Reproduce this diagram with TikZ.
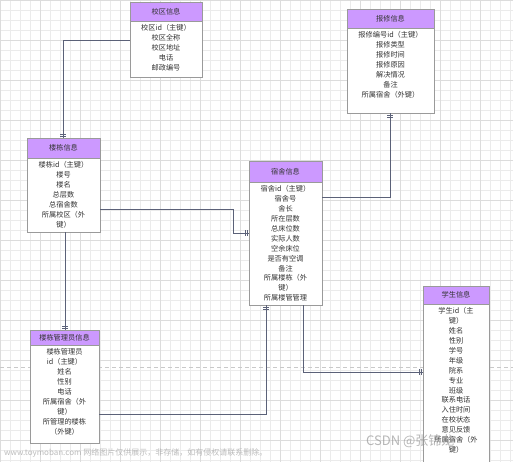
\documentclass[tikz,border=0pt]{standalone}
\usepackage{fontspec}
\setmainfont{Noto Sans CJK SC}
\usetikzlibrary{fit}
\definecolor{hdr}{HTML}{CC99FF}
\definecolor{boxc}{HTML}{9A9A9A}
\definecolor{conn}{HTML}{5B6178}
\definecolor{txt}{HTML}{333333}
\definecolor{gridA}{HTML}{EBEBEB}
\definecolor{gridB}{HTML}{DCDCDC}
\tikzset{
  boxline/.style={draw=boxc, line width=0.9pt},
  conline/.style={draw=conn, line width=0.9pt},
  bodytext/.style={anchor=north, align=center, text=txt, inner sep=0pt,
     font=\fontsize{7.2}{9.9}\selectfont},
  titletext/.style={text=txt, inner sep=0pt, font=\fontsize{7.2}{9}\selectfont},
  tick/.style={draw=conn, line width=0.7pt}
}
\newcommand{\entity}[8]{%
  \node[boxline, fill=white, inner sep=0pt, fit={(#2,#3) (#4,#6)}] (#1) {};
  \node[boxline, fill=hdr, inner sep=0pt, fit={(#2,#3) (#4,#5)}] (#1h) {};
  \node[titletext] (#1t) at (#1h.center) {#7};
  \node[bodytext] (#1b) at ({(#2+#4)/2},{#5+3.5}) {#8};
}
\begin{document}
\begin{tikzpicture}[x=1pt,y=-1pt]
\useasboundingbox (0,0) rectangle (513,462);
\fill[white] (0,0) rectangle (513,462);
% grid
\foreach \i in {0,10,...,510} {\draw[gridA, line width=0.5pt] (\i,0) -- (\i,462);}
\foreach \j in {0,10,...,460} {\draw[gridA, line width=0.5pt] (0,\j) -- (513,\j);}
\foreach \i in {0,40,...,510} {\draw[gridB, line width=0.6pt] (\i,0) -- (\i,462);}
\foreach \j in {0,40,...,460} {\draw[gridB, line width=0.6pt] (0,\j) -- (513,\j);}
\draw[gridB!80!gray, line width=0.6pt, dash pattern=on 4pt off 3pt] (0,367) -- (513,367);

% entities
\entity{xq}{130}{2}{202}{21}{77}{校区信息}{校区id（主键）\\校区全称\\校区地址\\电话\\邮政编号}
\entity{bx}{347}{9}{434}{28}{113}{报修信息}{报修编号id（主键）\\报修类型\\报修时间\\报修原因\\解决情况\\备注\\所属宿舍（外键）}
\entity{ld}{27}{138}{100}{158}{232}{楼栋信息}{楼栋id（主键）\\楼号\\楼名\\总层数\\总宿舍数\\所属校区（外\\键）}
\entity{ss}{249}{161}{322}{182}{305}{宿舍信息}{宿舍id（主键）\\宿舍号\\舍长\\所在层数\\总床位数\\实际人数\\空余床位\\是否有空调\\备注\\所属楼栋（外\\键）\\所属楼管管理}
\entity{gl}{30}{330}{99}{345}{443}{楼栋管理员信息}{楼栋管理员\\id（主键）\\姓名\\性别\\电话\\所属宿舍（外\\键）\\所管理的楼栋\\（外键）}
\entity{xs}{423}{286}{489}{304}{462}{学生信息}{学生id（主\\键）\\姓名\\性别\\学号\\年级\\院系\\专业\\班级\\联系电话\\入住时间\\在校状态\\意见反馈\\所属宿舍（外\\键）}

% connectors
\draw[conline] (xq.west |- 0,40) -- (63,40) -- (ld.north -| 63,0);
\draw[tick] (60,136) -- (66,136) (60,134) -- (66,134);

\draw[conline] (ld.east |- 0,209) -- (233,209) -- (233,233) -- (ss.west |- 0,233);
\draw[tick] (245,230) -- (245,236) (247,230) -- (247,236);

\draw[conline] (ss.east |- 0,197) -- (390,197) -- (bx.south -| 390,0);
\draw[tick] (387,115) -- (393,115) (387,117) -- (393,117);

\draw[conline] (ld.south -| 65,0) -- (gl.north -| 65,0);
\draw[tick] (62,328) -- (68,328) (62,326) -- (68,326);

\draw[conline] (gl.east |- 0,414) -- (266,414) -- (ss.south -| 266,0);
\draw[tick] (263,307) -- (269,307) (263,309) -- (269,309);

\draw[conline] (ss.south -| 303,0) -- (303,372) -- (xs.west |- 0,372);
\draw[tick] (419,369) -- (419,375) (421,369) -- (421,375);

% watermarks
\node[anchor=west, text=gray!70, inner sep=0pt, font=\fontsize{8}{9}\selectfont, opacity=0.75] (wm1) at (4,453) {www.toymoban.com 网络图片仅供展示，非存储，如有侵权请联系删除。};
\node[anchor=west, text=gray!80, inner sep=0pt, font=\fontsize{13}{14}\selectfont, opacity=0.7] (wm2) at (366,441) {CSDN @张锦龙};
\end{tikzpicture}
\end{document}
